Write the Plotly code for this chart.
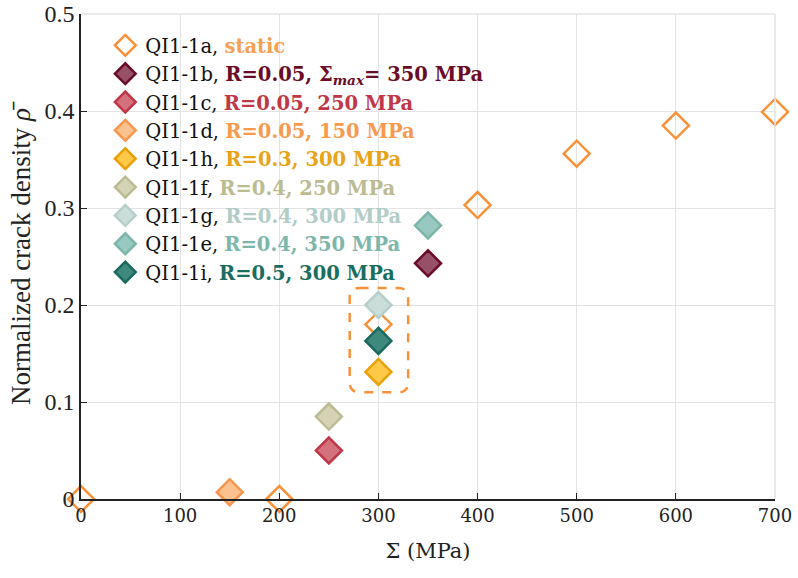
import plotly.graph_objects as go

# ---- data ----
series_names = ["QI1-1a", "QI1-1b", "QI1-1c", "QI1-1d", "QI1-1h", "QI1-1f", "QI1-1g", "QI1-1e", "QI1-1i"]
series_labels = ["static", "R=0.05, Σ<sub><i>max</i></sub>= 350 MPa", "R=0.05, 250 MPa", "R=0.05, 150 MPa",
                 "R=0.3, 300 MPa", "R=0.4, 250 MPa", "R=0.4, 300 MPa", "R=0.4, 350 MPa", "R=0.5, 300 MPa"]
static_x = [0, 200, 300, 400, 500, 600, 700]
static_y = [0.0, 0.0, 0.18, 0.303, 0.356, 0.385, 0.399]
fatigue_x = [350, 250, 150, 300, 250, 300, 350, 300]
fatigue_y = [0.243, 0.05, 0.007, 0.131, 0.085, 0.2, 0.282, 0.163]
line_colors = ["#F7913A", "#6A0C28", "#C03848", "#F7964C", "#E9A008", "#BDBB94", "#B6CFCA", "#7CB6AB", "#1A6B5F"]
fill_colors = ["rgba(255,255,255,0)", "#965068", "#D3727C", "#FBC18F", "#FFC846", "#D5D3B6", "#CBDDD9", "#98C8BF", "#3E887C"]
text_colors = ["#F7A055", "#6A0C28", "#C03848", "#F79A4E", "#E9A318", "#BCBB92", "#B2CCC7", "#7DB7AC", "#1A6E60"]
x_ticks = [0, 100, 200, 300, 400, 500, 600, 700]
y_ticks = [0, 0.1, 0.2, 0.3, 0.4, 0.5]
y_tick_text = ["0", "0.1", "0.2", "0.3", "0.4", "0.5"]

SERIF = "Liberation Serif"
WIDE = "DejaVu Serif"
fig = go.Figure()

def legend_name(i):
    return f"{series_names[i]}, <b><span style='color:{text_colors[i]}'>{series_labels[i]}</span></b>"

fig.add_trace(go.Scatter(
    x=static_x, y=static_y, mode="markers", name=legend_name(0), cliponaxis=False,
    marker=dict(symbol="diamond", size=20, color=fill_colors[0],
                line=dict(color=line_colors[0], width=2.5))))

for k in range(len(fatigue_x)):
    i = k + 1
    fig.add_trace(go.Scatter(
        x=[fatigue_x[k]], y=[fatigue_y[k]], mode="markers", name=legend_name(i), cliponaxis=False,
        marker=dict(symbol="diamond", size=20, color=fill_colors[i],
                    line=dict(color=line_colors[i], width=2.5))))

# rounded dashed box around 300 MPa points
x0, x1, y0, y1 = 271, 330, 0.110, 0.2175
rx, ry = 10, 0.0105
path = (f"M{x0+rx},{y1} L{x1-rx},{y1} Q{x1},{y1} {x1},{y1-ry} "
        f"L{x1},{y0+ry} Q{x1},{y0} {x1-rx},{y0} L{x0+rx},{y0} Q{x0},{y0} {x0},{y0+ry} "
        f"L{x0},{y1-ry} Q{x0},{y1} {x0+rx},{y1} Z")
fig.add_shape(type="path", path=path, xref="x", yref="y",
              line=dict(color="#F7913A", width=2.5, dash="dash"), layer="above")

# gray top/right frame
fig.add_shape(type="line", xref="paper", yref="paper", x0=0, x1=1, y0=1, y1=1,
              line=dict(color="#E3E3E3", width=1.5))
fig.add_shape(type="line", xref="paper", yref="paper", x0=1, x1=1, y0=0, y1=1,
              line=dict(color="#E3E3E3", width=1.5))

fig.update_layout(
    width=798, height=578,
    margin=dict(l=81, r=23, t=14, b=79),
    plot_bgcolor="white", paper_bgcolor="white",
    font=dict(family=SERIF, size=20, color="#222222"),
    showlegend=True,
    legend=dict(x=0.035, y=0.975, xanchor="left", yanchor="top",
                bgcolor="rgba(0,0,0,0)", borderwidth=0,
                font=dict(family=WIDE, size=19.5, color="#111111"),
                itemsizing="trace", tracegroupgap=0),
    xaxis=dict(range=[0, 700], tickvals=x_ticks, ticks="inside", ticklen=6, tickcolor="#222222",
               showline=True, linecolor="#222222", linewidth=1.5, showgrid=True, gridcolor="#E3E3E3",
               zeroline=False, automargin=False, tickfont=dict(size=18, family=WIDE),
               title=dict(text="Σ (MPa)", font=dict(size=21, family=WIDE), standoff=18)),
    yaxis=dict(range=[0, 0.5], tickvals=y_ticks, ticktext=y_tick_text, ticks="inside", ticklen=6,
               tickcolor="#222222", showline=True, linecolor="#222222", linewidth=1.5,
               showgrid=True, gridcolor="#E3E3E3", zeroline=False, automargin=False,
               tickfont=dict(size=24, family=SERIF),
               title=dict(text="Normalized crack density <i>ρ̄</i>", font=dict(size=27, family=SERIF), standoff=6)),
)

fig.write_html("out.html")
